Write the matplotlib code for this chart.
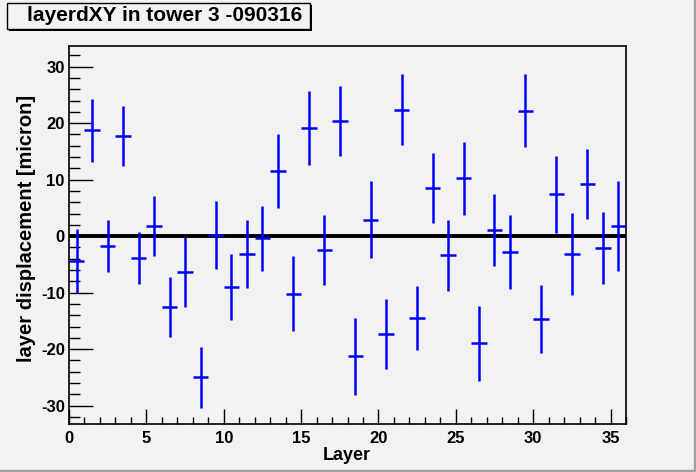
import matplotlib
matplotlib.use("Agg")
import matplotlib.pyplot as plt
from matplotlib.patches import Rectangle
from matplotlib.ticker import MultipleLocator

layers = [i + 0.5 for i in range(36)]
displacement = [-4.4, 18.7, -1.8, 17.8, -3.9, 1.8, -12.5, -6.3, -25.0, 0.2,
                -9.0, -3.2, -0.4, 11.5, -10.2, 19.1, -2.5, 20.3, -21.3, 2.9,
                -17.3, 22.4, -14.5, 8.5, -3.4, 10.2, -19.0, 1.1, -2.8, 22.2,
                -14.6, 7.4, -3.2, 9.2, -2.1, 1.8]
errors = [5.7, 5.5, 4.6, 5.3, 4.6, 5.3, 5.3, 6.2, 5.4, 6.0,
          5.8, 6.0, 5.8, 6.6, 6.6, 6.5, 6.2, 6.2, 6.8, 6.8,
          6.2, 6.3, 5.6, 6.2, 6.3, 6.4, 6.7, 6.3, 6.5, 6.5,
          6.0, 6.8, 7.3, 6.2, 6.4, 7.9]
title = "layerdXY in tower 3 -090316"
xlabel = "Layer"
ylabel = "layer displacement [micron]"

bg = "#f2f2f2"
plt.rcParams['font.family'] = ['Liberation Sans', 'DejaVu Sans']
plt.rcParams['axes.unicode_minus'] = False
fig = plt.figure(figsize=(6.96, 4.72), dpi=100, facecolor=bg)

# canvas bevel
fig.patches.append(Rectangle((0, 0), 1, 2.5/472, transform=fig.transFigure, color="#a0a0a0", zorder=0))
fig.patches.append(Rectangle((1 - 2.5/696, 0), 2.5/696, 1, transform=fig.transFigure, color="#a0a0a0", zorder=0))

ax = fig.add_axes([69/696, 1 - 424/472, (626 - 69)/696, (424 - 46)/472])
ax.set_facecolor(bg)
ax.set_xlim(0, 36)
ax.set_ylim(-33.25, 33.65)

ax.axhline(0, color="black", lw=2.8, zorder=2)
ax.errorbar(layers, displacement, yerr=errors, xerr=0.5, fmt="none",
            ecolor="#0000ff", elinewidth=1.8, capsize=0, zorder=3)

for s in ax.spines.values():
    s.set_linewidth(1.2)
ax.xaxis.set_major_locator(MultipleLocator(5))
ax.xaxis.set_minor_locator(MultipleLocator(1))
ax.yaxis.set_major_locator(MultipleLocator(10))
ax.yaxis.set_minor_locator(MultipleLocator(2))
ax.tick_params(axis="x", which="major", direction="in", length=11, width=1, labelsize=12, pad=5)
ax.tick_params(axis="x", which="minor", direction="in", length=5, width=1)
ax.tick_params(axis="y", which="major", direction="in", length=17, width=1, labelsize=12, pad=3)
ax.tick_params(axis="y", which="minor", direction="in", length=8, width=1)
for lab in ax.get_xticklabels() + ax.get_yticklabels():
    lab.set_fontweight("bold")

ax.set_xlabel(xlabel, fontsize=13, fontweight="bold")
ax.set_ylabel(ylabel, fontsize=14.5, fontweight="bold")
ax.xaxis.set_label_coords(0.499, -0.06)
ax.yaxis.set_label_coords(-0.06, 0.518)

# title box with shadow
fig.patches.append(Rectangle((9/696, 1 - 31/472), 303/696, 26/472, transform=fig.transFigure,
                             facecolor="black", edgecolor="none", zorder=5))
fig.patches.append(Rectangle((7/696, 1 - 29/472), 303/696, 26/472, transform=fig.transFigure,
                             facecolor=bg, edgecolor="black", lw=1, zorder=6))
fig.text(164.5/696, 1 - 20.7/472, title, ha="center", va="baseline", fontsize=15,
         fontweight="bold", zorder=7)

fig.savefig("out.png", dpi=100, facecolor=bg)
